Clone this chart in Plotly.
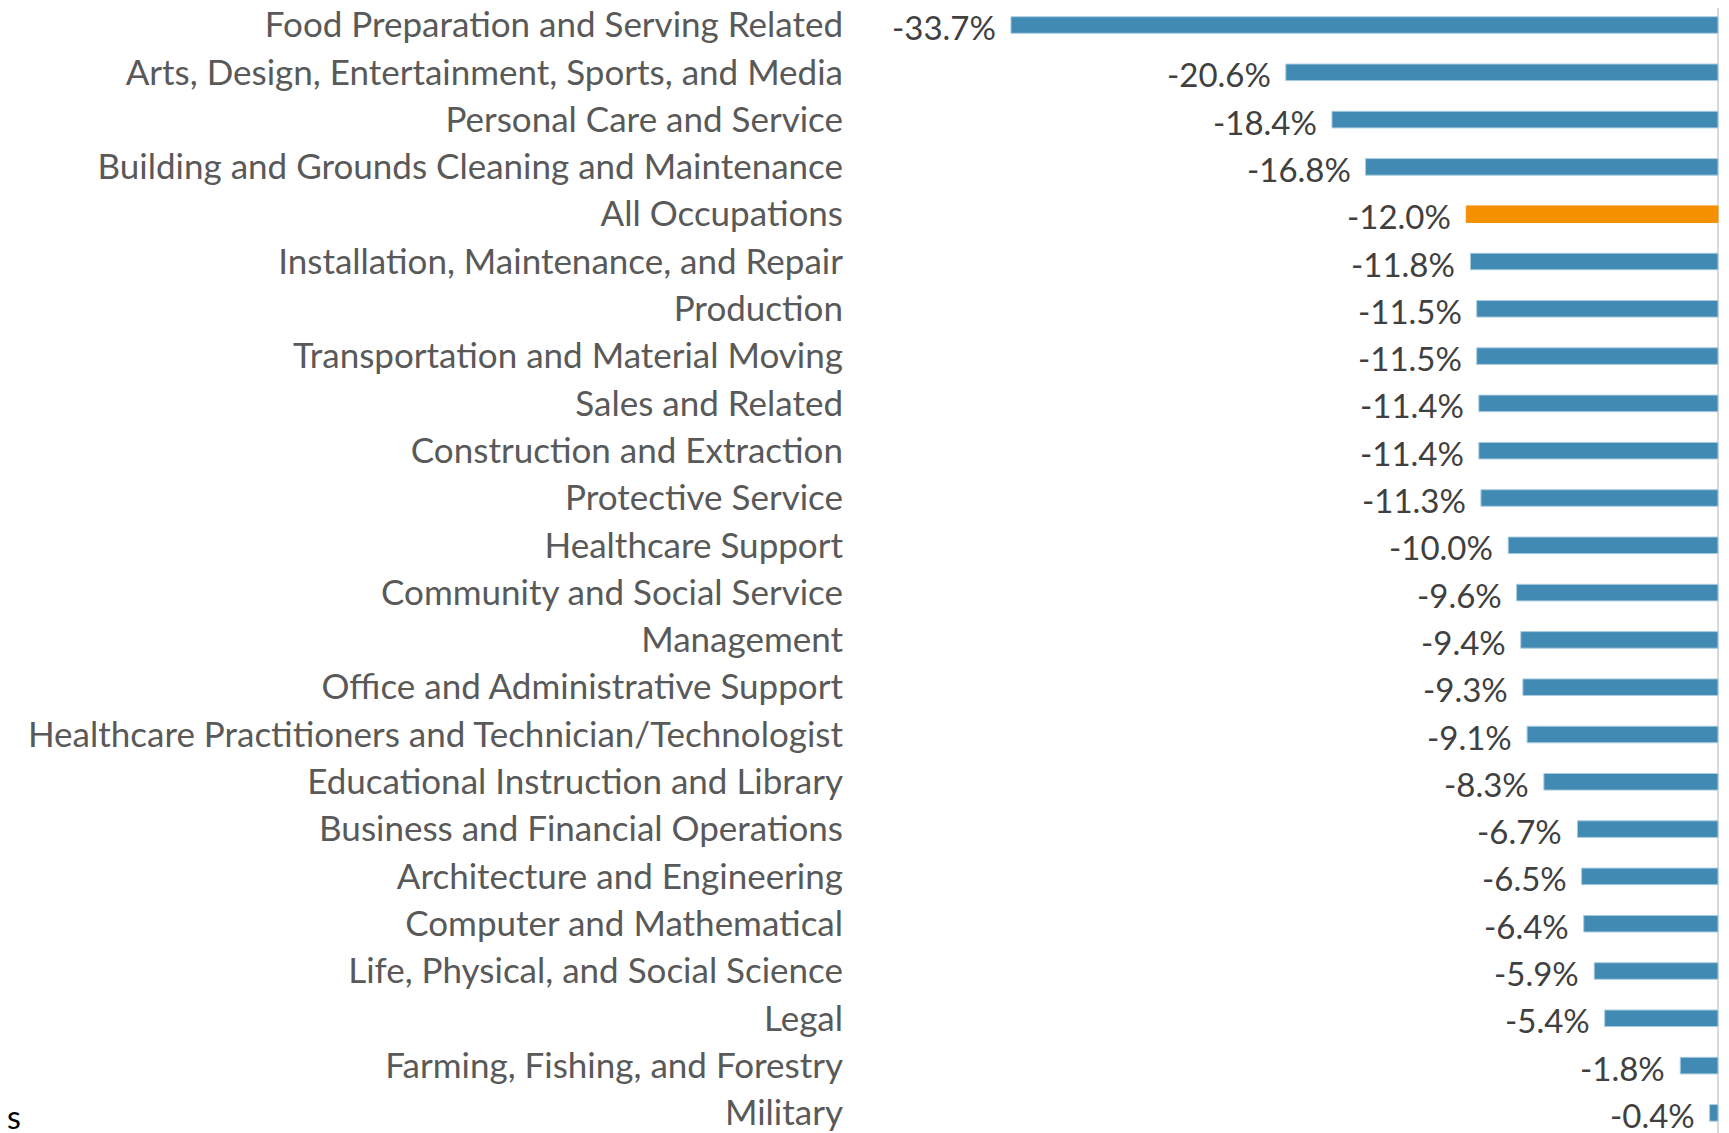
import plotly.graph_objects as go

categories = [
    "Food Preparation and Serving Related",
    "Arts, Design, Entertainment, Sports, and Media",
    "Personal Care and Service",
    "Building and Grounds Cleaning and Maintenance",
    "All Occupations",
    "Installation, Maintenance, and Repair",
    "Production",
    "Transportation and Material Moving",
    "Sales and Related",
    "Construction and Extraction",
    "Protective Service",
    "Healthcare Support",
    "Community and Social Service",
    "Management",
    "Office and Administrative Support",
    "Healthcare Practitioners and Technician/Technologist",
    "Educational Instruction and Library",
    "Business and Financial Operations",
    "Architecture and Engineering",
    "Computer and Mathematical",
    "Life, Physical, and Social Science",
    "Legal",
    "Farming, Fishing, and Forestry",
    "Military",
]
values = [-33.7, -20.6, -18.4, -16.8, -12.0, -11.8, -11.5, -11.5, -11.4, -11.4,
          -11.3, -10.0, -9.6, -9.4, -9.3, -9.1, -8.3, -6.7, -6.5, -6.4,
          -5.9, -5.4, -1.8, -0.4]
highlight = "All Occupations"

BLUE = "#418AB3"
ORANGE = "#F59100"
colors = [ORANGE if c == highlight else BLUE for c in categories]
edges = ["#F59100" if c == highlight else "#A9CBE0" for c in categories]

fig = go.Figure()
fig.add_trace(go.Bar(
    x=values, y=categories, orientation="h",
    marker=dict(color=colors, line=dict(color=edges, width=1)),
    width=0.35, hoverinfo="skip",
))

for c, v in zip(categories, values):
    fig.add_annotation(
        x=v, y=c, xref="x", yref="y", text=f"{v:.1f}%",
        showarrow=False, xanchor="right", yanchor="middle",
        xshift=-13, yshift=-2,
        font=dict(family="Lato, Noto Sans, sans-serif", size=33, color="#404040"),
    )

# the page body adds an 8px margin at top/left; the figure runs to the window edge
W, H = 1713, 1125
L, R = 852, 0
pxu = 20.98
zero_px = 1710
x_lo = -(zero_px - L) / pxu
x_hi = (W - R - zero_px) / pxu

row = 47.3
first = 17
y_top = -first / row
y_bot = y_top + H / row

plot_w = W - L - R
fig.add_annotation(
    x=-L / plot_w, y=1 - 1108 / H, xref="paper", yref="paper", text="s",
    showarrow=False, xanchor="left", yanchor="middle", xshift=-3,
    font=dict(family="Lato, sans-serif", size=32, color="#000000"),
)

fig.update_layout(
    width=W, height=H,
    margin=dict(l=L, r=R, t=0, b=0, pad=0, autoexpand=False),
    paper_bgcolor="white", plot_bgcolor="white",
    showlegend=False,
    xaxis=dict(range=[x_lo, x_hi], showgrid=False, showticklabels=False,
               zeroline=True, zerolinecolor="#D9D9D9", zerolinewidth=2,
               showline=False, fixedrange=True, automargin=False),
    yaxis=dict(type="category", range=[y_bot, y_top], showgrid=False,
               showline=False, zeroline=False, ticks="",
               ticklabelstandoff=16, automargin=False,
               tickfont=dict(family="Lato, Noto Sans, sans-serif", size=35, color="#595959"),
               fixedrange=True),
)

fig.write_html("out.html")
